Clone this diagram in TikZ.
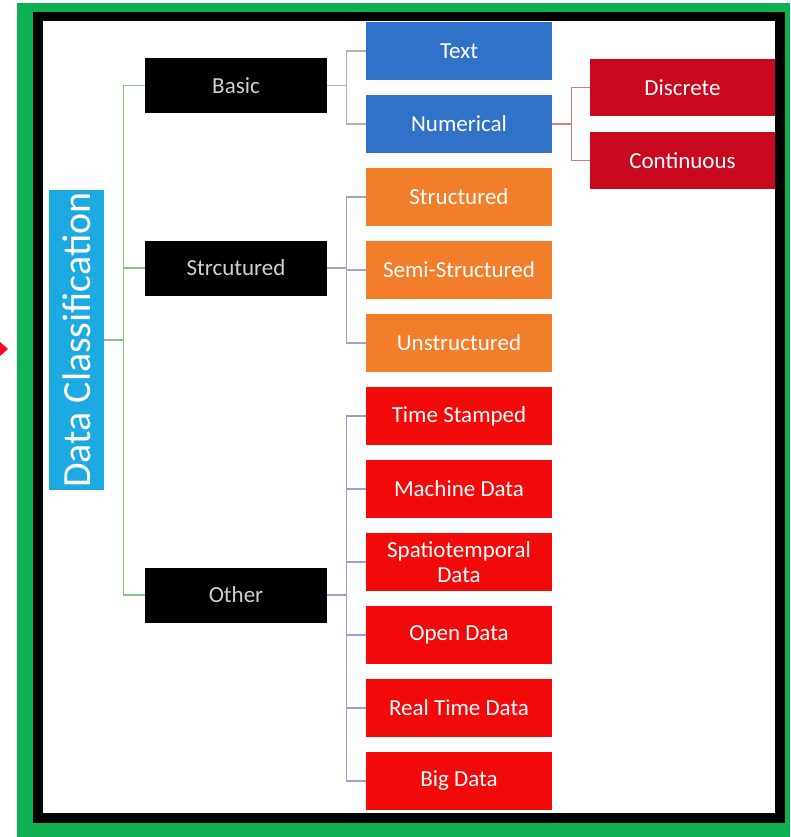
\documentclass[tikz,border=0pt]{standalone}
\usepackage{fontspec}
\setmainfont{Carlito}
\usetikzlibrary{positioning}
\definecolor{frgreen}{HTML}{0FB050}
\definecolor{rootblue}{HTML}{1DA9E1}
\definecolor{boxblue}{HTML}{2F72C8}
\definecolor{boxorange}{HTML}{F27D2A}
\definecolor{boxred}{HTML}{F20A0A}
\definecolor{darkred}{HTML}{C8081C}
\tikzstyle{box} = [rectangle, minimum width=186pt, minimum height=57.6pt, inner sep=2pt,
    text centered, text=white, font=\fontsize{23}{25}\selectfont]
\tikzstyle{catbox} = [box, fill=black, minimum width=182pt, minimum height=55pt, text=white!82!black]
\tikzstyle{bluebox} = [box, fill=boxblue]
\tikzstyle{orangebox} = [box, fill=boxorange]
\tikzstyle{redbox} = [box, fill=boxred]
\tikzstyle{subbox} = [box, fill=darkred, minimum width=185pt]
\tikzstyle{link} = [line width=1.3pt]

\begin{document}
\begin{tikzpicture}[x=1pt, y=-1pt, node distance=15pt]
  \useasboundingbox (0,0) rectangle (790,837);
  % frame
  \fill[frgreen] (17,3) rectangle (790,837);
  \fill[black] (33,12) rectangle (785,823);
  \fill[white] (43,21) rectangle (775,813);
  \fill[red!85!magenta] (0,342) -- (8,349) -- (0,356) -- cycle;

  \node (root) [box, fill=rootblue, rotate=90, minimum width=300pt, minimum height=55pt,
    font=\fontsize{40}{42}\selectfont] at (76.5,340) {Data Classification};

  \node (basic)  [catbox] at (236,85.5) {Basic};
  \node (strcut) [catbox] at (236,268) {Strcutured};
  \node (other)  [catbox] at (236,595) {Other};

  \node (text)    [bluebox] at (459,51) {Text};
  \node (num)     [bluebox, below=of text] {Numerical};
  \node (struct)  [orangebox, below=of num] {Structured};
  \node (semi)    [orangebox, below=of struct] {Semi-Structured};
  \node (unstr)   [orangebox, below=of semi] {Unstructured};
  \node (stamp)   [redbox, below=of unstr] {Time Stamped};
  \node (machine) [redbox, below=of stamp] {Machine Data};
  \node (spatio)  [redbox, below=of machine, align=center] {Spatiotemporal\\Data};
  \node (open)    [redbox, below=of spatio] {Open Data};
  \node (real)    [redbox, below=of open] {Real Time Data};
  \node (big)     [redbox, below=of real] {Big Data};

  \node (disc) [subbox] at (682.5,87.5) {Discrete};
  \node (cont) [subbox, below=of disc] {Continuous};

  % connectors
  \foreach \n in {basic, strcut, other}
    \draw[link, green!40!gray!70] (root.south) -- ++(19,0) |- (\n.west);
  \foreach \n in {text, num}
    \draw[link, gray!60] (basic.east) -- ++(19,0) |- (\n.west);
  \foreach \n in {struct, semi, unstr}
    \draw[link, blue!20!gray!60] (strcut.east) -- ++(19,0) |- (\n.west);
  \foreach \n in {stamp, machine, spatio, open, real, big}
    \draw[link, blue!40!gray!55] (other.east) -- ++(19,0) |- (\n.west);
  \foreach \n in {disc, cont}
    \draw[link, red!45!gray!70] (num.east) -- ++(19,0) |- (\n.west);
\end{tikzpicture}
\end{document}
